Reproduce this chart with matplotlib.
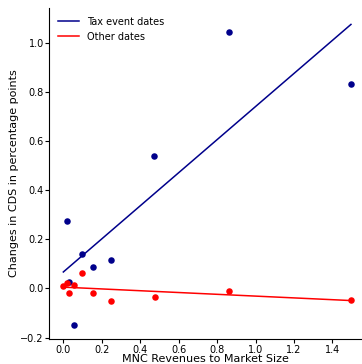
import numpy as np
import matplotlib
matplotlib.use("Agg")
import matplotlib.pyplot as plt

# MNC revenues to market size vs. CDS change (percentage points)
tax_x = [0.017, 0.030, 0.055, 0.095, 0.156, 0.249, 0.472, 0.862, 1.496]
tax_y = [0.275, 0.025, -0.147, 0.140, 0.086, 0.117, 0.539, 1.044, 0.833]

other_x = [0.000, 0.017, 0.030, 0.055, 0.095, 0.156, 0.249, 0.477, 0.862, 1.496]
other_y = [0.008, 0.021, -0.017, 0.012, 0.062, -0.019, -0.051, -0.035, -0.010, -0.046]

BLUE = "#00008B"
RED = "#FF0000"


def main():
    plt.rcParams["font.size"] = 7
    fig = plt.figure(figsize=(3.62, 3.64), dpi=100)
    ax = fig.add_axes([49.3 / 362, 25 / 364, 313 / 362, 331 / 364])

    grid = np.linspace(0, max(tax_x), 50)
    b = np.polyfit(tax_x, tax_y, 1)
    r = np.polyfit(other_x, other_y, 1)

    ax.plot(grid, np.polyval(b, grid), color=BLUE, lw=1.1, label="Tax event dates")
    ax.plot(grid, np.polyval(r, grid), color=RED, lw=1.1, label="Other dates")
    ax.scatter(tax_x, tax_y, s=22, color=BLUE, zorder=3, linewidths=0)
    ax.scatter(other_x, other_y, s=22, color=RED, zorder=3, linewidths=0)

    ax.set_xlim(-0.073, 1.555)
    ax.set_ylim(-0.206, 1.141)
    ax.set_xticks(np.arange(0, 1.41, 0.2))
    ax.set_yticks(np.arange(-0.2, 1.01, 0.2))
    ax.spines["top"].set_visible(False)
    ax.spines["right"].set_visible(False)
    ax.tick_params(direction="out", length=3, labelsize=7, pad=1)
    ax.set_xlabel("MNC Revenues to Market Size", fontsize=8, labelpad=-0.3)
    ax.set_ylabel("Changes in CDS in percentage points", fontsize=8, labelpad=1)
    ax.legend(loc="upper left", frameon=False, handlelength=2.2, fontsize=7)

    fig.savefig("out.png", dpi=100)


if __name__ == "__main__":
    main()
